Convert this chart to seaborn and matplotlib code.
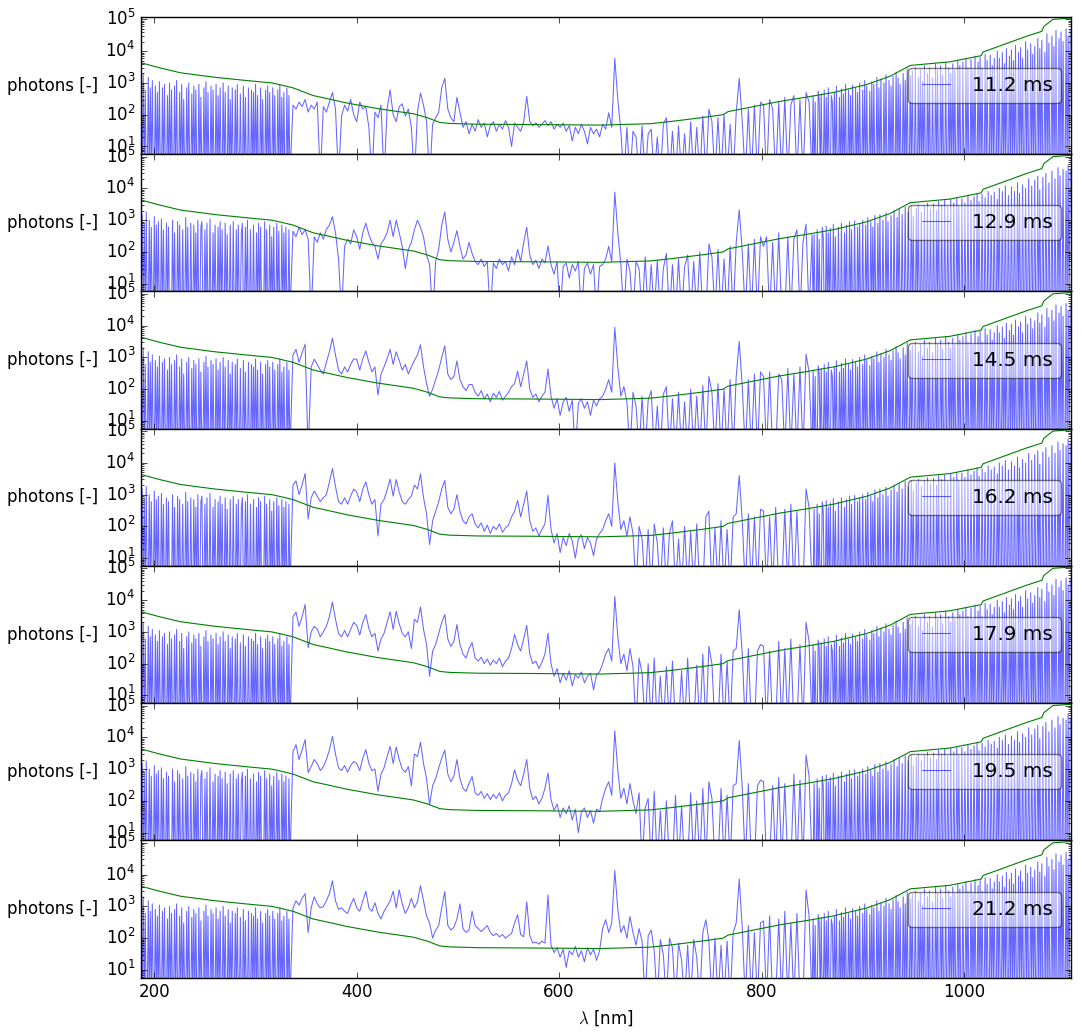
import numpy as np
import matplotlib
matplotlib.use("Agg")
import matplotlib.pyplot as plt
import seaborn as sns

# wavelength grid: 1 nm in the noisy UV and IR ends, 3 nm in between
wavelength = np.concatenate([np.arange(187, 335), np.arange(337, 851, 3),
                             np.arange(851, 1106)])

exposures = ["11.2 ms", "12.9 ms", "14.5 ms", "16.2 ms", "17.9 ms", "19.5 ms", "21.2 ms"]

# photon counts (1 = no signal, below the axis)
# 187-334 nm, noisy UV end (two looks, alternating between panels)
noise_uv_a = [
    900, 1, 2000, 1, 600, 1, 1, 1500, 1, 700,
    1, 1200, 1, 1, 800, 1, 500, 1, 1100, 1,
    1, 700, 1, 900, 1, 1, 400, 1, 1000, 1,
    600, 1, 1, 800, 1, 1200, 1, 1, 500, 1,
    900, 1, 300, 1, 1, 700, 1, 1000, 1, 1,
    450, 1, 800, 1, 600, 1, 1, 900, 1, 350,
    1, 1, 700, 1, 1100, 1, 500, 1, 1, 800,
    1, 600, 1, 1, 900, 1, 400, 1, 700, 1,
    1, 1000, 1, 500, 1, 1, 800, 1, 300, 1,
    700, 1, 1, 600, 1, 900, 1, 1, 450, 1,
    1, 800, 1, 350, 1, 1, 700, 1, 1, 600,
    1, 500, 1, 900, 1, 400, 1, 1, 700, 1,
    300, 1, 1, 600, 1, 800, 1, 500, 1, 1,
    700, 1, 400, 1, 1, 600, 1, 900, 1, 350,
    1, 500, 1, 1, 700, 1, 400, 1,
]
noise_uv_b = [
    1, 1500, 1, 800, 1, 1800, 1, 1, 1000, 1,
    600, 1, 1, 1300, 1, 700, 1, 900, 1, 1,
    1100, 1, 500, 1, 1, 800, 1, 600, 1, 1,
    1, 1000, 1, 400, 1, 1, 900, 1, 700, 1,
    1, 500, 1, 1, 1200, 1, 600, 1, 1, 800,
    1, 1, 700, 1, 400, 1, 1000, 1, 1, 600,
    900, 1, 1, 500, 1, 800, 1, 1, 1100, 1,
    1, 400, 1, 700, 1, 1, 600, 1, 900, 1,
    500, 1, 1, 800, 1, 350, 1, 1, 700, 1,
    1, 900, 1, 1, 500, 1, 700, 1, 1, 400,
    800, 1, 1, 600, 1, 1000, 1, 1, 500, 1,
    1, 700, 1, 1, 400, 1, 800, 1, 600, 1,
    1, 1, 900, 1, 500, 1, 1, 700, 1, 300,
    1, 600, 1, 1, 800, 1, 450, 1, 1, 700,
    1, 400, 1, 600, 1, 1, 500, 1,
]

# 851-1105 nm, noisy IR end
noise_ir_a = [
    400, 1, 250, 1, 1, 550, 300, 1, 450, 1,
    1, 600, 1, 350, 1, 700, 1, 1, 400, 250,
    1, 500, 1, 800, 1, 1, 350, 1, 650, 1,
    450, 1, 900, 1, 1, 600, 1, 400, 1, 850,
    1, 1, 700, 1, 500, 1, 1000, 1, 1, 600,
    1, 1200, 1, 800, 1, 1, 550, 1, 1100, 1,
    900, 1, 1, 1500, 1, 700, 1, 1300, 1, 1,
    1000, 1, 1800, 1, 1, 1200, 1, 800, 1, 1600,
    1, 1, 2200, 1, 1400, 1, 900, 1, 1, 2000,
    1, 1200, 1, 2800, 1, 1, 1700, 1, 2400, 1,
    1, 3000, 1, 1, 1500, 1, 2600, 1, 1100, 1,
    3500, 1, 1, 2000, 1, 3000, 1, 1, 1400, 1,
    1, 4000, 1, 2500, 1, 1, 3500, 1, 1800, 1,
    1, 4500, 1, 1, 3000, 1, 2000, 1, 4000, 1,
    2500, 1, 1, 5000, 1, 3500, 1, 1, 4500, 1,
    1, 6000, 1, 3000, 1, 1, 5500, 1, 2500, 1,
    7000, 1, 1, 4500, 1, 6500, 1, 3000, 1, 1,
    8000, 1, 5000, 1, 1, 7500, 1, 3500, 1, 6000,
    1, 1, 10000, 1, 6000, 1, 1, 9000, 1, 4000,
    1, 12000, 1, 1, 7000, 1, 11000, 1, 5000, 1,
    15000, 1, 1, 9000, 1, 13000, 1, 6000, 1, 1,
    20000, 1, 11000, 1, 1, 17000, 1, 8000, 1, 14000,
    1, 1, 25000, 1, 12000, 1, 22000, 1, 1, 9000,
    1, 35000, 1, 18000, 1, 1, 30000, 1, 14000, 1,
    45000, 1, 1, 25000, 1, 40000, 1, 20000, 1, 1,
    50000, 1, 30000, 1, 45000,
]
noise_ir_b = [
    1, 350, 1, 1, 500, 1, 250, 1, 1, 600,
    300, 1, 1, 650, 1, 400, 1, 550, 1, 1,
    750, 1, 300, 1, 1, 600, 1, 1, 800, 1,
    1, 400, 1, 700, 1, 1, 900, 1, 500, 1,
    1, 950, 1, 1, 600, 1, 800, 1, 1, 1000,
    1, 1, 700, 1, 1200, 1, 1, 900, 1, 600,
    1, 1400, 1, 1, 800, 1, 1500, 1, 1, 1000,
    1, 1, 1700, 1, 900, 1, 1, 1400, 1, 1,
    2000, 1, 1, 1200, 1, 2200, 1, 1, 1500, 1,
    1, 2600, 1, 1, 1800, 1, 1, 2800, 1, 1300,
    1, 1, 2400, 1, 3000, 1, 1, 1800, 1, 1,
    2800, 1, 1, 3400, 1, 1, 2200, 1, 1, 3200,
    1, 1, 2000, 1, 4000, 1, 1, 3000, 1, 1,
    4200, 1, 1, 2600, 1, 1, 4500, 1, 1, 3500,
    1, 1, 5000, 1, 2800, 1, 1, 4800, 1, 1,
    3500, 1, 1, 6000, 1, 1, 4200, 1, 1, 5500,
    1, 1, 7000, 1, 3800, 1, 1, 6500, 1, 1,
    5000, 1, 1, 8000, 1, 1, 6000, 1, 1, 7500,
    1, 1, 4500, 1, 10000, 1, 1, 8000, 1, 1,
    12000, 1, 1, 6000, 1, 1, 11000, 1, 1, 8000,
    1, 1, 15000, 1, 7000, 1, 1, 13000, 1, 1,
    10000, 1, 1, 20000, 1, 1, 12000, 1, 1, 18000,
    1, 1, 24000, 1, 9000, 1, 1, 22000, 1, 1,
    30000, 1, 1, 15000, 1, 1, 35000, 1, 1, 20000,
    1, 1, 45000, 1, 25000, 1, 1, 40000, 1, 1,
    35000, 1, 55000, 1, 40000,
]

# 337-850 nm per exposure, 3 nm steps
photons_112 = [
    200, 150, 250, 180, 300, 120, 200, 150, 250, 1,
    180, 120, 250, 500, 150, 1, 90, 200, 130, 300,
    100, 60, 250, 150, 180, 40, 1, 120, 80, 200,
    1, 150, 600, 100, 60, 180, 220, 90, 150, 40,
    1, 120, 480, 200, 60, 1, 50, 80, 120, 700,
    1400, 150, 80, 60, 350, 120, 40, 60, 25, 50,
    30, 70, 40, 55, 20, 45, 60, 30, 50, 35,
    65, 40, 10, 55, 40, 30, 60, 380, 60, 45,
    55, 40, 50, 65, 45, 60, 35, 50, 40, 55,
    30, 45, 15, 40, 25, 50, 30, 12, 40, 25,
    35, 20,
    50, 35, 115, 40, 5900, 300, 30, 1, 40, 1,
    30, 20, 1, 45, 1, 25, 35, 1, 20, 1,
    50, 80, 1, 30, 1, 45, 1, 25, 1, 60,
    1, 40, 1, 90, 1, 150, 60, 1, 80, 1,
    100, 1, 50, 1, 120, 1400, 60, 1, 150, 1,
    200, 1, 250,
    200, 1, 300, 150, 1, 250, 1, 350, 1, 200,
    400, 1, 300, 1, 500, 250, 1,
]

photons_129 = [
    450, 300, 600, 350, 500, 250, 1, 300, 200, 400,
    250, 520, 700, 1280, 400, 60, 1, 150, 250, 180,
    500, 300, 120, 400, 810, 350, 200, 150, 60, 180,
    250, 400, 1000, 300, 1000, 400, 150, 30, 120, 200,
    500, 1000, 600, 300, 80, 40, 1, 50, 120, 700,
    1800, 250, 100, 200, 470, 150, 60, 80, 200, 90,
    50, 40, 60, 35, 50, 1, 45, 30, 60, 40,
    50, 25, 70, 40, 120, 50, 200, 600, 80, 40,
    55, 30, 60, 45, 155, 40, 20, 50, 1, 35,
    45, 15, 40, 25, 50, 1, 30, 45, 20, 40,
    1, 35,
    40, 60, 150, 50, 7600, 400, 40, 1, 60, 25,
    1, 50, 30, 1, 70, 1, 40, 1, 55, 1,
    30, 90, 1, 40, 1, 60, 1, 35, 80, 1,
    50, 1, 100, 1, 1, 180, 70, 1, 120, 1,
    60, 1, 150, 1, 200, 2100, 100, 1, 180, 1,
    250, 1, 300,
    150, 300, 1, 200, 1, 400, 1, 1, 300, 1,
    250, 500, 1, 200, 750, 1, 350,
]

photons_145 = [
    1200, 1800, 700, 1400, 2600, 1, 500, 880, 600, 400,
    300, 700, 1500, 4000, 1200, 400, 300, 500, 350, 600,
    900, 870, 400, 900, 1600, 700, 350, 500, 65, 300,
    500, 900, 1800, 600, 1500, 800, 400, 600, 300, 500,
    800, 1200, 2500, 500, 150, 60, 100, 200, 400, 1000,
    2300, 300, 200, 250, 770, 200, 120, 90, 140, 140,
    80, 60, 90, 50, 70, 40, 75, 55, 85, 45,
    60, 80, 120, 150, 370, 120, 300, 770, 100, 55,
    70, 40, 60, 80, 430, 60, 25, 50, 15, 40,
    55, 20, 45, 1, 35, 50, 25, 40, 15, 45,
    30, 50,
    60, 100, 200, 80, 8800, 500, 60, 120, 40, 1,
    80, 30, 1, 60, 1, 45, 90, 1, 30, 1,
    70, 120, 1, 50, 1, 80, 1, 40, 1, 100,
    1, 60, 1, 130, 1, 250, 80, 1, 150, 1,
    100, 1, 200, 1, 250, 3200, 120, 1, 200, 1,
    300, 1, 350,
    250, 1, 350, 1, 1, 300, 200, 1, 450, 1,
    300, 1, 500, 1, 1260, 350, 1,
]

photons_162 = [
    2000, 2700, 1000, 2000, 4600, 170, 800, 1300, 900, 600,
    800, 1000, 2500, 6600, 1800, 600, 500, 800, 500, 900,
    1500, 1200, 600, 1500, 2500, 1000, 500, 700, 50, 500,
    700, 1400, 3100, 900, 3000, 1200, 600, 500, 700, 900,
    2000, 1500, 4500, 800, 250, 27, 150, 300, 600, 1500,
    2800, 400, 250, 350, 1000, 300, 150, 120, 200, 250,
    120, 90, 130, 70, 110, 60, 100, 80, 120, 65,
    90, 110, 200, 300, 660, 200, 500, 1300, 150, 70,
    90, 50, 80, 120, 950, 80, 30, 60, 15, 45,
    25, 60, 35, 10, 40, 55, 20, 45, 30, 12,
    40, 60,
    80, 150, 250, 100, 10000, 600, 80, 150, 50, 200,
    60, 1, 100, 40, 1, 80, 1, 120, 30, 1,
    90, 1, 60, 150, 1, 40, 1, 100, 1, 70,
    1, 120, 1, 1, 200, 300, 1, 90, 1, 150,
    1, 80, 1, 200, 250, 4000, 150, 1, 250, 1,
    200, 1, 350,
    300, 1, 200, 1, 400, 1, 1, 350, 1, 500,
    1, 300, 1, 1, 1500, 400, 1,
]

photons_179 = [
    3000, 4200, 1500, 3000, 7300, 315, 1000, 1500, 1200, 700,
    1000, 1500, 3000, 8700, 2500, 900, 700, 1100, 700, 1200,
    2000, 1600, 800, 2000, 3500, 1300, 700, 900, 250, 600,
    900, 2000, 4300, 1200, 4500, 1800, 900, 700, 1000, 300,
    2500, 2000, 6100, 1200, 400, 40, 250, 400, 900, 2000,
    3500, 600, 350, 500, 1700, 400, 200, 150, 300, 460,
    150, 120, 160, 100, 140, 90, 130, 100, 150, 80,
    120, 150, 300, 830, 400, 250, 600, 1600, 200, 100,
    120, 70, 110, 200, 900, 100, 40, 70, 25, 50,
    30, 60, 20, 45, 35, 55, 25, 40, 50, 15,
    45, 55,
    100, 200, 300, 120, 13000, 700, 100, 200, 60, 300,
    80, 1, 150, 50, 1, 100, 1, 150, 1, 40,
    1, 80, 1, 120, 1, 1, 60, 1, 150, 1,
    1, 90, 1, 200, 1, 350, 100, 1, 1, 200,
    1, 120, 1, 250, 300, 5000, 200, 1, 300, 1,
    1, 250, 400,
    350, 1, 250, 1, 1, 500, 1, 300, 1, 600,
    1, 1, 400, 1, 2000, 500, 1,
]

photons_195 = [
    3500, 5900, 2000, 4000, 8500, 780, 1200, 2000, 1500, 900,
    1200, 2000, 4000, 10700, 3000, 1100, 900, 1300, 800, 1300,
    1750, 1500, 900, 2200, 4100, 1500, 900, 1000, 200, 700,
    1100, 2500, 5200, 1500, 5000, 2000, 1000, 800, 1200, 300,
    3000, 2500, 7000, 1500, 500, 76, 300, 500, 1100, 2200,
    4000, 700, 400, 600, 2000, 500, 250, 200, 350, 590,
    180, 150, 200, 120, 170, 110, 160, 120, 180, 100,
    150, 180, 350, 960, 450, 300, 700, 2000, 250, 110,
    140, 80, 120, 250, 760, 110, 50, 80, 30, 60,
    40, 70, 25, 55, 10, 45, 60, 30, 50, 20,
    55, 45,
    120, 250, 400, 150, 16000, 900, 120, 250, 80, 350,
    100, 40, 180, 1, 60, 120, 1, 200, 1, 50,
    1, 100, 1, 1, 150, 1, 70, 1, 1, 180,
    1, 100, 1, 250, 1, 400, 120, 1, 1, 250,
    1, 150, 1, 300, 350, 8000, 250, 1, 350, 1,
    1, 300, 450,
    400, 1, 1, 300, 1, 550, 1, 350, 1, 1,
    700, 1, 450, 1, 2800, 600, 1,
]

photons_212 = [
    900, 1500, 1100, 1800, 2500, 150, 900, 2000, 1200, 900,
    1000, 1500, 2500, 6400, 1500, 800, 900, 700, 600, 1100,
    1800, 900, 700, 1500, 3000, 900, 700, 1300, 600, 400,
    700, 1000, 1500, 3000, 900, 3300, 1200, 600, 900, 1800,
    900, 1400, 4500, 1500, 500, 300, 100, 180, 250, 900,
    2900, 250, 180, 220, 400, 1200, 200, 150, 180, 700,
    250, 200, 160, 200, 250, 150, 120, 140, 110, 130,
    100, 120, 140, 300, 550, 130, 110, 1400, 120, 70,
    75, 65, 80, 70, 2300, 60, 35, 50, 25, 45,
    12, 40, 30, 55, 25, 40, 18, 50, 30, 45,
    20, 40,
    200, 380, 150, 300, 13500, 800, 150, 250, 100, 480,
    150, 60, 200, 80, 1, 120, 180, 40, 1, 90,
    30, 1, 100, 50, 1, 70, 20, 1, 60, 1,
    90, 25, 1, 150, 380, 80, 1, 100, 1, 60,
    1, 80, 1, 150, 300, 7200, 200, 1, 250, 1,
    150, 1, 300,
    350, 1, 500, 1, 1, 400, 1, 700, 1, 300,
    1, 600, 1, 1, 3300, 500, 1,
]

# detection limit curve (green)
limit_nm = [187, 205, 226, 260, 290, 316, 326, 337, 357, 375, 390, 421, 456,
            470, 482, 492, 520, 574, 640, 690, 712, 740, 762, 767, 775, 818,
            844, 871, 904, 927, 947, 986, 1017, 1019, 1062, 1077, 1079, 1088, 1106]
limit_photons = [4300, 3000, 2080, 1500, 1200, 1000, 850, 700, 400, 300, 234,
                 155, 107, 80, 57, 53, 50, 49, 47, 52, 62, 80, 100, 125, 140,
                 262, 355, 500, 890, 1620, 3550, 4600, 7200, 9400, 29500,
                 42000, 60000, 100000, 110000]

middles = [photons_112, photons_129, photons_145, photons_162,
           photons_179, photons_195, photons_212]
spectra = []
for n, mid in enumerate(middles):
    uv = noise_uv_a if n % 2 == 0 else noise_uv_b
    ir = noise_ir_a if n % 2 == 0 else noise_ir_b
    spectra.append(uv + mid + ir)

for name, s in zip(exposures, spectra):
    if len(s) != len(wavelength):
        raise ValueError(f"{name}: {len(s)} values, expected {len(wavelength)}")

plt.style.use("classic")
plt.rcParams["figure.facecolor"] = "white"
plt.rcParams["savefig.facecolor"] = "white"

fig, axes = plt.subplots(7, 1, sharex=True, figsize=(10.82, 10.35), dpi=100)
fig.subplots_adjust(left=0.1303, right=0.9898, bottom=0.0554, top=0.9836, hspace=0)

for ax, label, counts in zip(axes, exposures, spectra):
    ax.set_yscale("log")
    sns.lineplot(x=wavelength, y=counts, ax=ax, color="b", lw=0.75, alpha=0.6,
                 label=label, estimator=None)
    sns.lineplot(x=limit_nm, y=limit_photons, ax=ax, color="g", lw=0.8,
                 estimator=None)
    ax.set_xlim(186.8, 1105.8)
    ax.set_ylim(5.7, 1.19e5)
    ax.set_ylabel("photons [-]", rotation=0, ha="right", va="center")
    ax.legend(loc="center right", fancybox=True, framealpha=0.5,
              fontsize="large", handlelength=2.0)

axes[-1].set_xlabel(r"$\lambda$ [nm]")

fig.savefig("out.png", dpi=100)
